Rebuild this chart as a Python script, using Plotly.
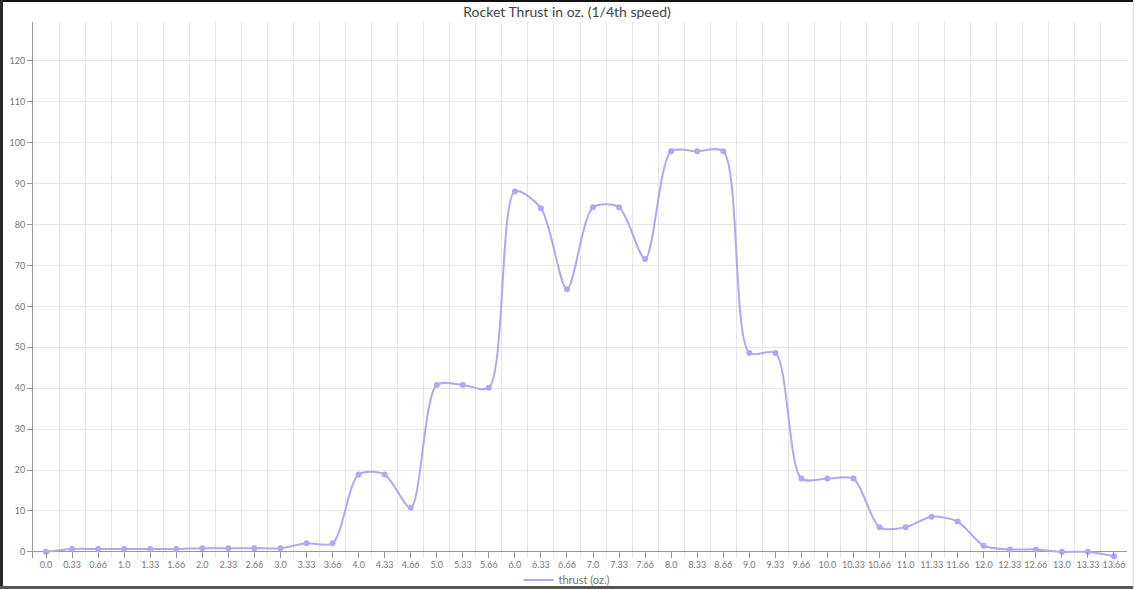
import plotly.graph_objects as go

categories = ["0.0", "0.33", "0.66", "1.0", "1.33", "1.66", "2.0", "2.33", "2.66", "3.0",
              "3.33", "3.66", "4.0", "4.33", "4.66", "5.0", "5.33", "5.66", "6.0", "6.33",
              "6.66", "7.0", "7.33", "7.66", "8.0", "8.33", "8.66", "9.0", "9.33", "9.66",
              "10.0", "10.33", "10.66", "11.0", "11.33", "11.66", "12.0", "12.33", "12.66", "13.0",
              "13.33", "13.66"]
thrust = [0.0, 0.7, 0.7, 0.7, 0.7, 0.7, 0.9, 0.9, 0.9, 0.9,
          2.1, 2.1, 18.9, 18.9, 10.8, 40.8, 40.8, 40.1, 88.1, 84.0,
          64.2, 84.2, 84.2, 71.6, 97.9, 97.9, 97.9, 48.6, 48.6, 17.9,
          17.9, 17.9, 6.0, 6.0, 8.6, 7.4, 1.5, 0.6, 0.6, 0.0,
          0.0, -1.1]
y_ticks = [0, 10, 20, 30, 40, 50, 60, 70, 80, 90, 100, 110, 120]

LINE = "#aea9f2"
idx = list(range(len(categories)))

fig = go.Figure()
fig.add_trace(go.Scatter(
    x=idx, y=thrust, mode="lines+markers",
    line=dict(color=LINE, width=2, shape="spline", smoothing=0.8),
    marker=dict(color=LINE, size=6),
    cliponaxis=False, showlegend=False, name="thrust (oz.)"))
fig.add_trace(go.Scatter(
    x=[None], y=[None], mode="lines", line=dict(color=LINE, width=2),
    name="thrust (oz.)", showlegend=True))

W, H = 1134, 589
L, R, T, B = 33, 7, 22, 31
pw, ph = W - L - R, H - T - B

def px(x):
    return (x - L) / pw

def py(y):
    return (H - B - y) / ph

frame = [
    (0, 0, W, 2, "#111111"),
    (0, 0, 3, H, "#2a2a2a"),
    (0, H - 3, W, H, "#555555"),
    (W - 1, 0, W, H, "#dddddd"),
]
shapes = [dict(type="rect", xref="paper", yref="paper",
               x0=px(a), x1=px(c), y0=py(d), y1=py(b),
               fillcolor=col, line=dict(width=0), layer="above")
          for a, b, c, d, col in frame]

fig.update_layout(
    width=W, height=H, autosize=False,
    margin=dict(l=L, r=R, t=T, b=B, autoexpand=False),
    paper_bgcolor="white", plot_bgcolor="white",
    font=dict(family="Lato, 'Open Sans', sans-serif", color="#666666"),
    title=dict(text="Rocket Thrust in oz. (1/4th speed)", x=0.5, xref="container",
               y=1 - 12 / H, yref="container", xanchor="center", yanchor="middle",
               font=dict(size=14, color="#444444", family="Lato, sans-serif")),
    showlegend=True,
    legend=dict(orientation="h", x=0.5, xref="container", xanchor="center",
                y=1 - 580 / H, yref="container", yanchor="middle",
                font=dict(size=11, color="#777777"), bgcolor="rgba(0,0,0,0)",
                itemwidth=30),
    shapes=shapes,
)
fig.update_xaxes(
    range=[-0.5, len(categories) - 0.5], automargin=False,
    tickmode="array", tickvals=idx, ticktext=categories,
    tickangle=0,
    tickfont=dict(size=9, color="#777777"),
    ticks="inside", ticklen=6, tickcolor="#999999",
    showgrid=False, zeroline=False,
    showline=False,
    minor=dict(tickmode="array", tickvals=[i + 0.5 for i in range(len(categories) - 1)],
               showgrid=True, gridcolor="#e6e6e6", gridwidth=1, ticks=""),
)
fig.update_yaxes(
    range=[-1.5, 129.5], automargin=False,
    tickmode="array", tickvals=y_ticks,
    tickfont=dict(size=9, color="#777777"),
    ticks="outside", ticklen=5, tickcolor="#999999",
    showgrid=True, gridcolor="#e6e6e6", gridwidth=1,
    zeroline=True, zerolinecolor="#999999", zerolinewidth=1,
    showline=True, linecolor="#999999", linewidth=1,
)

fig.write_html("out.html", config={"displayModeBar": False},
               post_script="document.body.style.margin='0';document.body.style.overflow='hidden';")
